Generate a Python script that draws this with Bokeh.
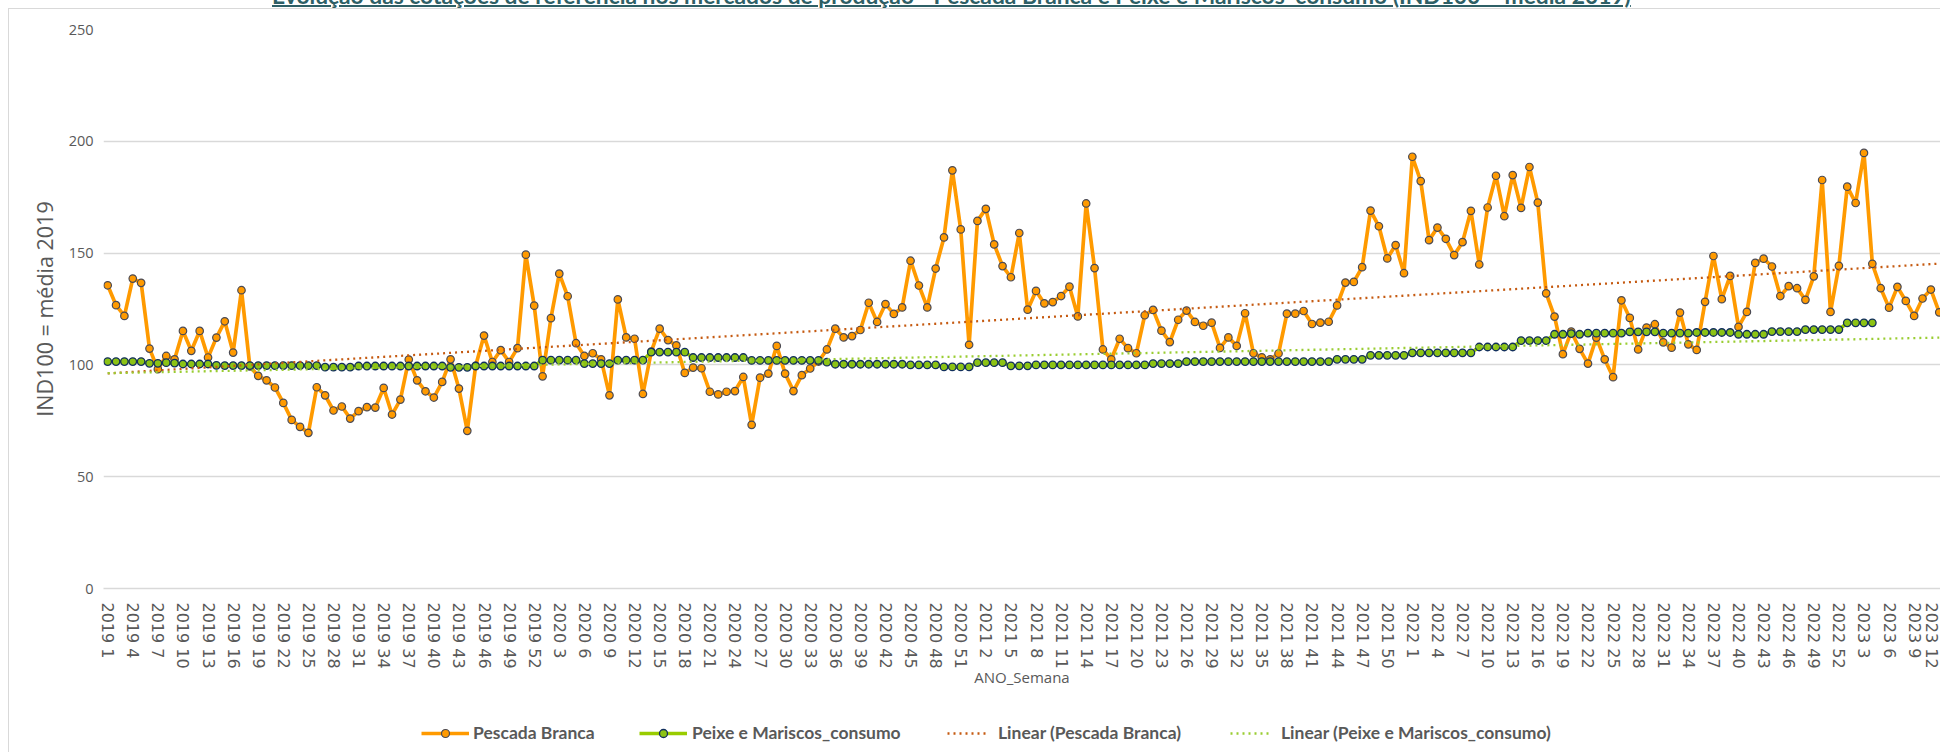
from bokeh.plotting import figure
from bokeh.layouts import column
from bokeh.models import FixedTicker, Legend, LegendItem, Range1d, Div
from bokeh.embed import file_html
from bokeh.resources import INLINE

# ---------------- data ----------------
title = ("Evolução das cotações de referência nos mercados de produção - "
         "Pescada Branca e Peixe e Mariscos_consumo (IND100 = média 2019)")
years = [2019, 2020, 2021, 2022, 2023]
weeks_in_year = [52, 52, 52, 52, 12]
week_labels = [f"{y} {w}" for y, n in zip(years, weeks_in_year) for w in range(1, n + 1)]

pescada_2019 = [135.6, 126.7, 121.9, 138.6, 136.7, 107.3, 98.1, 104.0, 102.5, 115.2, 106.3, 115.2, 103.3,
                112.2, 119.5, 105.5, 133.4, 99.3, 95.1, 93.1, 89.9, 83.0, 75.4, 72.3, 69.6, 90.0,
                86.4, 79.6, 81.4, 76.0, 79.3, 81.1, 80.9, 89.7, 77.8, 84.5, 102.4, 93.1, 88.2,
                85.4, 92.4, 102.5, 89.4, 70.5, 99.6, 113.1, 101.3, 106.6, 101.3, 107.5, 149.3, 126.5]
pescada_2020 = [94.9, 120.9, 140.8, 130.7, 109.7, 104.0, 105.2, 102.5, 86.4, 129.3, 112.3, 111.7, 87.0,
                106.0, 116.2, 111.1, 108.7, 96.4, 98.8, 98.5, 88.0, 86.8, 88.0, 88.3, 94.6, 73.2,
                94.3, 96.1, 108.5, 96.1, 88.3, 95.4, 98.4, 101.5, 106.9, 116.2, 112.3, 112.9, 115.6,
                127.8, 119.2, 127.2, 122.8, 125.7, 146.6, 135.5, 125.7, 143.1, 157.0, 187.0, 160.6, 109.0]
pescada_2021 = [164.4, 169.8, 153.9, 144.2, 139.2, 159.0, 124.7, 133.1, 127.5, 128.1, 130.8, 135.0, 121.7,
                172.2, 143.3, 106.9, 102.5, 111.7, 107.5, 105.2, 122.2, 124.6, 115.3, 110.2, 120.2, 124.3,
                119.2, 117.5, 118.9, 107.6, 112.3, 108.5, 123.1, 105.2, 103.4, 102.5, 105.1, 122.9, 122.9,
                124.1, 118.3, 118.9, 119.3, 126.6, 136.8, 137.1, 143.7, 169.0, 162.0, 147.6, 153.6, 141.0]
pescada_2022 = [193.1, 182.2, 155.8, 161.4, 156.4, 149.1, 154.9, 168.9, 144.9, 170.4, 184.6, 166.5, 184.9,
                170.2, 188.5, 172.6, 132.0, 121.6, 104.8, 114.9, 107.2, 100.6, 112.2, 102.5, 94.5, 128.9,
                121.0, 106.9, 116.7, 118.2, 110.1, 107.7, 123.4, 109.2, 106.7, 128.2, 148.7, 129.4, 139.8,
                117.0, 123.7, 145.6, 147.5, 144.0, 130.8, 135.2, 134.3, 129.1, 139.6, 182.7, 123.7, 144.3]
pescada_2023 = [179.7, 172.4, 194.8, 145.2, 134.3, 125.6, 134.9, 128.6, 121.9, 129.7, 133.7, 123.5]

peixe_2019 = [101.5, 101.5, 101.5, 101.5, 101.5, 100.7, 100.7, 101.0, 100.8, 100.4, 100.4, 100.4, 100.4,
              99.8, 99.7, 99.7, 99.7, 99.7, 99.7, 99.7, 99.7, 99.7, 99.7, 99.7, 99.7, 99.7,
              99.0, 99.0, 99.0, 99.0, 99.5, 99.5, 99.5, 99.5, 99.5, 99.5, 99.5, 99.5, 99.5,
              99.5, 99.5, 98.9, 98.9, 98.9, 99.5, 99.5, 99.5, 99.5, 99.5, 99.5, 99.5, 99.5]
peixe_2020 = [102.1, 102.1, 102.1, 102.1, 102.1, 100.6, 100.6, 100.6, 100.6, 102.1, 102.1, 102.1, 102.1,
              105.7, 105.7, 105.7, 105.7, 105.7, 103.3, 103.3, 103.3, 103.3, 103.3, 103.3, 103.3, 102.0,
              102.0, 102.0, 102.0, 102.0, 102.0, 102.0, 102.0, 102.0, 101.2, 100.3, 100.3, 100.3, 100.3,
              100.3, 100.3, 100.3, 100.3, 100.3, 100.0, 100.0, 100.0, 100.0, 99.1, 99.1, 99.1, 99.1]
peixe_2021 = [101.0, 101.0, 101.0, 101.0, 99.6, 99.6, 99.6, 100.0, 100.0, 100.0, 100.0, 100.0, 100.0,
              100.0, 100.0, 100.0, 100.0, 100.0, 100.0, 100.0, 100.0, 100.6, 100.6, 100.6, 100.6, 101.5,
              101.5, 101.5, 101.5, 101.5, 101.5, 101.5, 101.5, 101.5, 101.5, 101.5, 101.5, 101.5, 101.5,
              101.5, 101.5, 101.5, 101.5, 102.5, 102.5, 102.5, 102.5, 104.3, 104.3, 104.3, 104.3, 104.3]
peixe_2022 = [105.4, 105.4, 105.4, 105.4, 105.4, 105.4, 105.4, 105.4, 108.0, 108.0, 108.0, 108.0, 108.0,
              110.9, 110.9, 110.9, 110.9, 113.7, 113.7, 114.0, 113.7, 114.2, 114.2, 114.2, 114.2, 114.2,
              114.8, 114.8, 114.8, 114.8, 114.2, 114.2, 114.2, 114.2, 114.5, 114.5, 114.5, 114.5, 114.5,
              113.7, 113.7, 113.7, 113.7, 114.9, 114.9, 114.9, 114.9, 115.8, 115.8, 115.8, 115.8, 115.8]
peixe_2023 = [118.8, 118.8, 118.8, 118.8]

# linear trend lines, values read at the first and last visible week
trend_x = [0, 219]
trend_pescada = [96.2, 145.3]
trend_peixe = [96.3, 112.2]

y_ticks = [0, 50, 100, 150, 200, 250]

pescada = pescada_2019 + pescada_2020 + pescada_2021 + pescada_2022 + pescada_2023
peixe = peixe_2019 + peixe_2020 + peixe_2021 + peixe_2022 + peixe_2023
x_pescada = list(range(len(pescada)))
x_peixe = list(range(len(peixe)))

# ---------------- styles ----------------
GRAY = "#595959"
ORANGE = "#FF9A00"
GREEN = "#99CC00"
ORANGE_EDGE = "#4a4a55"
GREEN_FILL = "#8CC314"
GREEN_EDGE = "#112E5E"
TREND_ORANGE = "#C55A11"
TREND_GREEN = "#9ACD32"

# ---------------- title strip (only its lower edge is visible) ----------------
title_div = Div(
    text=('<div style="position:relative; top:-16px; margin-left:272px; white-space:nowrap; '
          'font-family:Lato; font-weight:bold; font-size:22.8px; line-height:23px; color:#2E5F66; '
          'text-decoration:underline; text-decoration-thickness:2px;">' + title + '</div>'),
    width=1940, height=8, margin=(0, 0, 0, 0),
    styles={"overflow": "hidden"})

# ---------------- main figure ----------------
p = figure(width=1931, height=703, output_backend="svg", toolbar_location=None,
           x_range=Range1d(-0.5, 219.15), y_range=Range1d(0, 250),
           min_border_left=94, min_border_right=0, min_border_top=20, min_border_bottom=124)
p.outline_line_color = None
p.background_fill_color = "white"
p.border_fill_color = "white"

p.xgrid.grid_line_color = None
p.ygrid.grid_line_color = "#d9d9d9"
p.ygrid.grid_line_width = 1.3
p.ygrid.ticker = FixedTicker(ticks=y_ticks)

yax = p.yaxis[0]
yax.ticker = FixedTicker(ticks=y_ticks)
yax.axis_line_color = None
yax.major_tick_line_color = None
yax.minor_tick_line_color = None
yax.major_label_text_font = "Open Sans"
yax.major_label_text_font_size = "14.5px"
yax.major_label_text_color = GRAY
yax.major_label_standoff = 4
yax.axis_label = "IND100 = média 2019"
yax.axis_label_text_font = "Open Sans"
yax.axis_label_text_font_size = "21.5px"
yax.axis_label_text_font_style = "normal"
yax.axis_label_text_color = GRAY
yax.axis_label_standoff = 7

xax = p.xaxis[0]
xax.ticker = FixedTicker(ticks=list(range(0, len(week_labels), 3)))
xax.major_label_overrides = {i: week_labels[i] for i in range(0, len(week_labels), 3)}
xax.major_label_orientation = "vertical"
xax.axis_line_color = "#d9d9d9"
xax.axis_line_width = 1.3
xax.major_tick_line_color = None
xax.minor_tick_line_color = None
xax.major_label_text_font = "DejaVu Sans"
xax.major_label_text_font_size = "16px"
xax.major_label_text_color = GRAY
xax.major_label_standoff = 8
xax.axis_label = "ANO_Semana"
xax.axis_label_text_font = "Open Sans"
xax.axis_label_text_font_size = "15px"
xax.axis_label_text_font_style = "normal"
xax.axis_label_text_color = GRAY
xax.axis_label_standoff = -5

p.line(x_pescada, pescada, line_color=ORANGE, line_width=3.7, line_join="round")
p.scatter(x_pescada, pescada, marker="circle", size=7.5, fill_color=ORANGE,
          line_color=ORANGE_EDGE, line_width=1.2)
p.line(x_peixe, peixe, line_color=GREEN, line_width=3.5, line_join="round")
p.scatter(x_peixe, peixe, marker="circle", size=7.5, fill_color=GREEN_FILL,
          line_color=GREEN_EDGE, line_width=1.3)
p.line(trend_x, trend_pescada, line_color=TREND_ORANGE, line_width=2.3, line_dash="2 4")
p.line(trend_x, trend_peixe, line_color=TREND_GREEN, line_width=2.3, line_dash="2 4")

# ---------------- legend strip ----------------
pl = figure(width=1931, height=40, output_backend="svg", toolbar_location=None,
            x_range=Range1d(0, 1), y_range=Range1d(0, 1), x_axis_type=None, y_axis_type=None,
            min_border_left=94, min_border_right=0, min_border_top=0, min_border_bottom=0)
pl.outline_line_color = None
pl.grid.visible = False

# legend swatches (their single point lies outside the strip's range)
g1 = pl.line([-10], [-10], line_color=ORANGE, line_width=3.7)
s1 = pl.scatter([-10], [-10], marker="circle", size=7.5, fill_color=ORANGE, line_color=ORANGE_EDGE, line_width=1.2)
g2 = pl.line([-10], [-10], line_color=GREEN, line_width=3.5)
s2 = pl.scatter([-10], [-10], marker="circle", size=7.5, fill_color=GREEN_FILL, line_color=GREEN_EDGE, line_width=1.3)
g3 = pl.line([-10], [-10], line_color=TREND_ORANGE, line_width=2.3, line_dash="2 4")
g4 = pl.line([-10], [-10], line_color=TREND_GREEN, line_width=2.3, line_dash="2 4")

legend_specs = [
    ("Pescada Branca", [g1, s1], 318, 48, 4),
    ("Peixe e Mariscos_consumo", [g2, s2], 536, 48, 5),
    ("Linear (Pescada Branca)", [g3], 844, 42, 9),
    ("Linear (Peixe e Mariscos_consumo)", [g4], 1127, 40, 11),
]
for label, rends, xloc, gw, st in legend_specs:
    lg = Legend(items=[LegendItem(label=label, renderers=rends)], location=(xloc, 9),
                orientation="horizontal", glyph_width=gw, glyph_height=20, label_standoff=st,
                padding=0, margin=0, border_line_color=None, background_fill_alpha=0,
                label_text_font="Lato", label_text_font_style="bold",
                label_text_font_size="17.5px", label_text_color=GRAY)
    pl.add_layout(lg)

chart = column(p, pl, spacing=0, margin=(0, 0, 0, 8),
               styles={"border-left": "1px solid #d9d9d9", "border-top": "1px solid #d9d9d9"})
layout = column(title_div, chart, spacing=0)

open("out.html", "w").write(file_html(layout, INLINE))
